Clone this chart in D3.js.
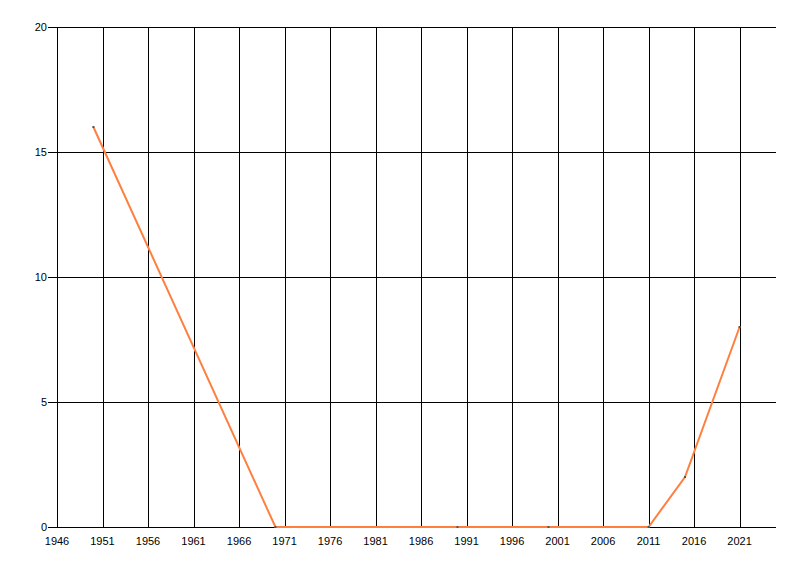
<!DOCTYPE html>
<html>
<head>
<meta charset="utf-8">
<script src="https://cdn.jsdelivr.net/npm/d3@7"></script>
<style>
  body { margin: 0; background: #fff; }
  #plot { width: 800px; height: 576px; }
  text { font-family: "Liberation Sans", Arial, sans-serif; font-size: 11px; fill: #000; }
</style>
</head>
<body>
<div id="plot"></div>
<script>
// data
var years = [1950, 1970, 1990, 2000, 2011, 2015, 2021];
var values = [16, 0, 0, 0, 0, 2, 8];
var xTicks = [1946, 1951, 1956, 1961, 1966, 1971, 1976, 1981, 1986, 1991, 1996, 2001, 2006, 2011, 2016, 2021];
var yTicks = [0, 5, 10, 15, 20];

var margin = { t: 27, r: 24, b: 49, l: 57 };
var width = 800 - margin.l - margin.r,
    height = 576 - margin.t - margin.b;

var svg = d3.select('#plot')
    .append('svg')
    .attr('width', 800)
    .attr('height', 576);

var plot = svg.append('g')
    .attr('transform', 'translate(' + margin.l + ',' + margin.t + ')');

var x = d3.scaleLinear().domain([1946, 2025]).range([0, width]);
var y = d3.scaleLinear().domain([0, 20]).range([height, 0]);

// vertical grid lines
plot.selectAll('.vgrid')
    .data(xTicks)
    .enter()
    .append('line')
    .attr('x1', function (d) { return Math.round(x(d)) + 0.5; })
    .attr('x2', function (d) { return Math.round(x(d)) + 0.5; })
    .attr('y1', 0)
    .attr('y2', height)
    .attr('stroke', '#000');

// horizontal grid lines (with tick stub on the left)
plot.selectAll('.hgrid')
    .data(yTicks)
    .enter()
    .append('line')
    .attr('x1', -9)
    .attr('x2', width)
    .attr('y1', function (d) { return Math.round(y(d)) + 0.5; })
    .attr('y2', function (d) { return Math.round(y(d)) + 0.5; })
    .attr('stroke', '#000');

// x labels
plot.selectAll('.xlab')
    .data(xTicks)
    .enter()
    .append('text')
    .attr('x', function (d) { return x(d); })
    .attr('y', height + 18)
    .attr('text-anchor', 'middle')
    .text(function (d) { return d; });

// y labels
plot.selectAll('.ylab')
    .data(yTicks)
    .enter()
    .append('text')
    .attr('x', -10)
    .attr('y', function (d) { return y(d) + 4; })
    .attr('text-anchor', 'end')
    .text(function (d) { return d; });

var pts = years.map(function (d, i) { return { year: d, value: values[i] }; });

var line = d3.line()
    .x(function (d) { return x(d.year); })
    .y(function (d) { return y(d.value); });

plot.append('path')
    .datum(pts)
    .attr('d', line)
    .attr('fill', 'none')
    .attr('stroke', '#ff7f3f')
    .attr('stroke-width', 2);

// small point markers
plot.selectAll('.pt')
    .data(pts)
    .enter()
    .append('rect')
    .attr('x', function (d) { return x(d.year) - 1; })
    .attr('y', function (d) { return y(d.value) - 1; })
    .attr('width', 2)
    .attr('height', 2)
    .attr('fill', '#555');
</script>
</body>
</html>
